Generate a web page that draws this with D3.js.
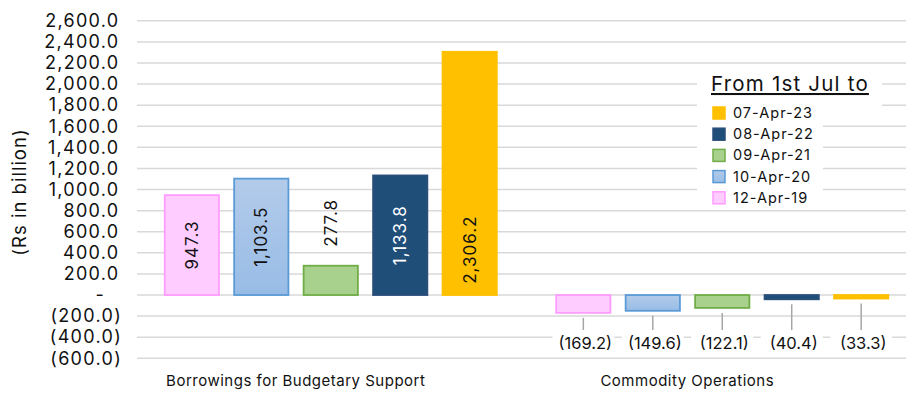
<!DOCTYPE html>
<html>
<head>
<meta charset="utf-8">
<script src="https://cdn.jsdelivr.net/npm/d3@7"></script>
<style>
  body { margin: 0; background: #fff; }
  svg { font-family: Inter, 'Open Sans', sans-serif; }
</style>
</head>
<body>
<svg width="910" height="394"></svg>
<script>
let categories = ['Borrowings for Budgetary Support', 'Commodity Operations'];
let periods = ['12-Apr-19', '10-Apr-20', '09-Apr-21', '08-Apr-22', '07-Apr-23'];
let borrowings = [947.3, 1103.5, 277.8, 1133.8, 2306.2];
let commodity = [-169.2, -149.6, -122.1, -40.4, -33.3];
let yTicks = [-600, -400, -200, 0, 200, 400, 600, 800, 1000, 1200, 1400, 1600, 1800, 2000, 2200, 2400, 2600];

let fills = {
  '12-Apr-19': '#ffccff',
  '10-Apr-20': 'url(#blueGrad)',
  '09-Apr-21': '#a9d18e',
  '08-Apr-22': '#1f4e79',
  '07-Apr-23': '#ffc000'
};
let strokes = {
  '12-Apr-19': '#ff9cff',
  '10-Apr-20': '#5b9bd5',
  '09-Apr-21': '#70ad47',
  '08-Apr-22': '#2a4f7a',
  '07-Apr-23': '#ffc000'
};

let svg = d3.select('svg');
let width = +svg.attr('width');
let height = +svg.attr('height');

let grad = svg.append('defs').append('linearGradient')
    .attr('id', 'blueGrad')
    .attr('x1', 0).attr('y1', 0).attr('x2', 0).attr('y2', 1);
grad.append('stop').attr('offset', '0%').attr('stop-color', '#b3cbea');
grad.append('stop').attr('offset', '100%').attr('stop-color', '#98bce6');

let y = d3.scaleLinear().domain([-600, 2600]).range([358.3, 20.8]);
let x0 = d3.scaleBand().domain(categories).range([135, 918]);
let x1 = d3.scaleBand().domain(periods).range([-174, 174]).paddingInner(0.19).paddingOuter(0.1);

let fmt = d3.format(',.1f');
let label = (v) => v < 0 ? `(${fmt(-v)})` : fmt(v);

// gridlines
svg.append('g').selectAll('line')
    .data(yTicks)
  .enter().append('line')
    .attr('x1', 137)
    .attr('x2', 906)
    .attr('y1', (d) => y(d))
    .attr('y2', (d) => y(d))
    .attr('stroke', '#d9d9d9')
    .attr('stroke-width', 1.5);

// y axis labels
let yAxis = svg.append('g')
    .attr('transform', 'translate(122, 0)')
    .call(d3.axisLeft(y).tickValues(yTicks).tickSize(0).tickPadding(0).tickFormat((d) => d === 0 ? '-' : label(d)));
yAxis.select('.domain').remove();
yAxis.selectAll('text')
    .attr('font-size', 18)
    .attr('font-family', 'Inter, sans-serif')
    .attr('letter-spacing', 1.3)
    .attr('fill', '#111')
    .attr('dx', (d) => d > 0 ? -2.5 : d === 0 ? -17 : 0);

svg.append('text')
    .attr('transform', 'translate(26, 192) rotate(-90)')
    .attr('text-anchor', 'middle')
    .attr('font-size', 18.5)
    .attr('letter-spacing', 1)
    .attr('fill', '#111')
    .text('(Rs in billion)');

// bars
let series = [borrowings, commodity];
let groups = svg.selectAll('.group')
    .data(categories)
  .enter().append('g')
    .attr('class', 'group')
    .attr('transform', (d) => `translate(${x0(d) + x0.bandwidth() / 2}, 0)`);

let bars = groups.selectAll('.bar')
    .data((d, i) => periods.map((p, j) => ({ period: p, value: series[i][j] })))
  .enter();

bars.append('rect')
    .attr('x', (d) => x1(d.period) + 1)
    .attr('width', x1.bandwidth() - 2)
    .attr('y', (d) => y(Math.max(0, d.value)))
    .attr('height', (d) => Math.abs(y(d.value) - y(0)))
    .attr('fill', (d) => fills[d.period])
    .attr('stroke', (d) => strokes[d.period])
    .attr('stroke-width', 1.8);

// positive value labels (rotated)
bars.filter((d) => d.value > 0).append('text')
    .attr('transform', (d) => {
      let cx = x1(d.period) + x1.bandwidth() / 2;
      let small = d.value < 500;
      let cy = small ? y(d.value) - 19 : y(d.value > 1500 ? 430 : d.value / 2);
      return `translate(${cx + 6}, ${cy}) rotate(-90)`;
    })
    .attr('text-anchor', (d) => d.value < 500 ? 'start' : 'middle')
    .attr('font-size', 17)
    .attr('letter-spacing', 1)
    .attr('fill', (d) => d.period === '08-Apr-22' ? '#fff' : '#111')
    .text((d) => label(d.value));

// negative value labels with leader lines
let neg = bars.filter((d) => d.value < 0);
neg.append('line')
    .attr('x1', (d) => x1(d.period) + x1.bandwidth() / 2)
    .attr('x2', (d) => x1(d.period) + x1.bandwidth() / 2)
    .attr('y1', (d) => y(d.value) + 5)
    .attr('y2', 330)
    .attr('stroke', '#a6a6a6')
    .attr('stroke-width', 1.5);
neg.append('rect')
    .attr('x', (d) => x1(d.period) + x1.bandwidth() / 2 - 31)
    .attr('y', 333)
    .attr('width', 62)
    .attr('height', 20)
    .attr('fill', '#fff');
neg.append('text')
    .attr('x', (d) => x1(d.period) + x1.bandwidth() / 2 + 2)
    .attr('y', 349)
    .attr('text-anchor', 'middle')
    .attr('font-size', 16.5)
    .attr('fill', '#111')
    .text((d) => label(d.value));

// category labels
svg.append('g').selectAll('text')
    .data(categories)
  .enter().append('text')
    .attr('x', (d) => x0(d) + x0.bandwidth() / 2 - 35)
    .attr('y', 386)
    .attr('text-anchor', 'middle')
    .attr('font-size', 15)
    .attr('letter-spacing', 0.5)
    .attr('fill', '#111')
    .text((d) => d);

// legend
let legend = svg.append('g');
legend.append('rect')
    .attr('x', 697).attr('y', 70).attr('width', 185).attr('height', 42)
    .attr('fill', '#fff');
legend.append('rect')
    .attr('x', 697).attr('y', 112).attr('width', 126).attr('height', 98)
    .attr('fill', '#fff');
legend.append('text')
    .attr('x', 711)
    .attr('y', 91)
    .attr('font-size', 20.5)
    .attr('letter-spacing', 1.2)
    .attr('fill', '#111')
    .attr('text-decoration', 'underline')
    .text('From 1st Jul to');

let items = legend.selectAll('.item')
    .data(periods.slice().reverse())
  .enter().append('g')
    .attr('class', 'item')
    .attr('transform', (d, i) => `translate(713, ${113 + i * 21.2})`);
items.append('rect')
    .attr('x', 0).attr('y', -6).attr('width', 12).attr('height', 12)
    .attr('fill', (d) => fills[d])
    .attr('stroke', (d) => strokes[d])
    .attr('stroke-width', 1.5);
items.append('text')
    .attr('x', 20)
    .attr('dy', '.35em')
    .attr('font-size', 14.5)
    .attr('letter-spacing', 1)
    .attr('fill', '#111')
    .text((d) => d);
</script>
</body>
</html>
